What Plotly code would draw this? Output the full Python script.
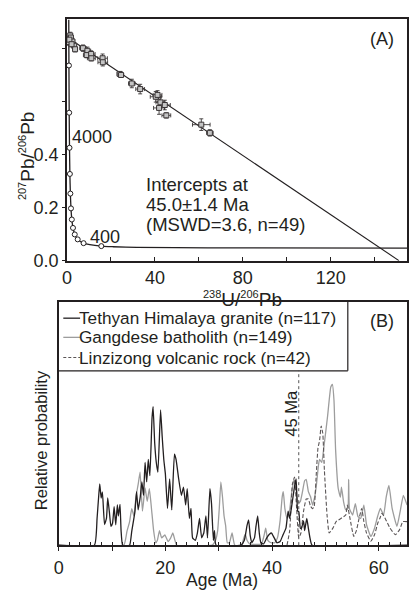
import plotly.graph_objects as go

W, H = 414, 608
INK = "#231f20"
FONT = "Liberation Sans, Arial, Helvetica, sans-serif"

# ---------------- Panel A data (Tera-Wasserburg) ----------------
spot_x = [0.7, 1.5, 1.8, 2.5, 3.3, 3.7, 1.1, 2.1, 7.3, 9.3, 9.0, 11.0, 11.1, 16.2, 16.3,
          24.0, 24.6, 29.5, 33.3, 40.4, 41.2, 41.9, 42.5, 44.5, 45.2, 61.1, 65.0]
spot_y = [0.823, 0.848, 0.840, 0.825, 0.809, 0.796, 0.832, 0.815, 0.800, 0.790, 0.774, 0.778,
          0.762, 0.762, 0.747, 0.703, 0.699, 0.667, 0.646, 0.617, 0.624, 0.575, 0.596, 0.586,
          0.547, 0.512, 0.481]
spot_ex = [0.8, 0.8, 0.9, 1.0, 1.0, 1.0, 0.8, 0.9, 1.5, 1.5, 1.5, 1.8, 1.8, 2.2, 2.2,
           1.2, 1.2, 1.5, 2.0, 2.5, 2.0, 2.5, 2.0, 2.5, 2.0, 4.0, 1.5]
spot_ey = [0.012, 0.012, 0.010, 0.012, 0.012, 0.010, 0.010, 0.010, 0.012, 0.014, 0.010, 0.012,
           0.010, 0.016, 0.014, 0.008, 0.008, 0.016, 0.018, 0.020, 0.016, 0.024, 0.020, 0.018,
           0.010, 0.022, 0.012]

# concordia curve (238U/206Pb, 207Pb/206Pb)
conc_x = [155.0, 63.96, 31.74, 20.99, 15.63, 7.57, 4.89, 3.55, 2.753, 2.217, 1.838, 1.556,
          1.337, 1.163, 1.0215, 0.9045, 0.853, 0.829]
conc_y = [0.0470, 0.0480, 0.0501, 0.0523, 0.0547, 0.0658, 0.0801, 0.0987, 0.1232, 0.1548,
          0.1968, 0.2524, 0.3264, 0.4249, 0.557, 0.7348, 0.845, 0.907]
# concordia age markers (400 Ma steps, 400 - 4800 Ma)
tick_x = [15.63, 7.57, 4.89, 3.55, 2.753, 2.217, 1.838, 1.556, 1.337, 1.163, 1.0215, 0.9045]
tick_y = [0.0547, 0.0658, 0.0801, 0.0987, 0.1232, 0.1548, 0.1968, 0.2524, 0.3264, 0.4249,
          0.557, 0.7348]

# discordia regression line
disc_x = [0.0, 151.0]
disc_y = [0.842, 0.0]

# ---------------- Panel B data (probability density curves) ----------------
him_age = [0, 6.7, 7.2, 7.5, 7.7, 7.97, 8.2, 8.6, 8.96, 9.2, 9.5, 9.8, 10.1, 10.4, 10.7, 11.0,
           11.2, 11.5, 11.7, 12.0, 13.3, 13.7, 14.3, 14.6, 14.9, 15.3, 15.6, 15.9, 16.2, 16.5,
           16.8, 17.1, 17.5, 17.7, 18.0, 18.3, 18.6, 19.1, 19.4, 19.7, 20.0, 20.4, 20.8, 21.2,
           21.7, 22.0, 22.5, 23.0, 23.4, 23.8, 24.1, 24.5, 24.8, 25.1, 25.6, 26.0, 26.4, 26.8,
           27.2, 27.6, 27.9, 28.35, 28.65, 29.0, 29.2, 29.5, 34.2, 34.8, 35.3, 35.6, 35.9, 36.2,
           36.7, 37.0, 37.3, 37.6, 37.9, 38.4, 39.0, 39.5, 39.9, 40.4, 40.9, 41.5, 42.0, 42.6,
           43.0, 43.3, 43.8, 44.2, 44.5, 44.8, 45.0, 45.3, 45.5, 45.9, 46.1, 46.5, 46.8, 47.1,
           47.5, 65.3]
him_p = [0, 0, 0.11, 0.20, 0.252, 0.194, 0.219, 0.085, 0.11, 0.194, 0.138, 0.077, 0.09, 0.158,
         0.084, 0.166, 0.12, 0.168, 0.06, 0, 0, 0.057, 0.138, 0.22, 0.145, 0.20, 0.26, 0.205,
         0.34, 0.26, 0.353, 0.286, 0.522, 0.57, 0.42, 0.34, 0.30, 0.556, 0.448, 0.353, 0.293,
         0.151, 0.272, 0.145, 0.374, 0.353, 0.272, 0.205, 0.239, 0.165, 0.232, 0.11, 0.151,
         0.03, 0.02, 0.05, 0.11, 0.03, 0.05, 0.12, 0.03, 0.232, 0.17, 0.02, 0.06, 0, 0, 0.02,
         0.08, 0.104, 0.04, 0.01, 0.03, 0.08, 0.12, 0.05, 0.01, 0.005, 0.03, 0.045, 0.05, 0.03,
         0.01, 0.015, 0.04, 0.07, 0.14, 0.11, 0.18, 0.24, 0.272, 0.14, 0.138, 0.07, 0.07, 0.10,
         0.06, 0.11, 0.07, 0.03, 0, 0]

gan_age = [0, 12.2, 12.8, 13.3, 13.7, 14.1, 14.5, 14.9, 15.26, 15.7, 16.2, 16.6, 17.0, 17.4,
           17.8, 18.2, 18.5, 18.9, 19.3, 19.9, 20.5, 21.0, 21.4, 21.8, 22.1, 28.8, 29.4, 29.8,
           30.1, 30.4, 30.7, 31.0, 31.3, 31.6, 32.0, 32.5, 33.0, 34.3, 34.7, 35.0, 35.3, 35.8,
           38.0, 38.5, 38.8, 39.2, 39.8, 40.5, 41.0, 41.5, 41.9, 42.1, 42.4, 42.8, 43.2, 43.7,
           44.1, 44.5, 44.9, 45.3, 45.7, 46.1, 46.4, 46.8, 47.2, 47.6, 48.0, 48.3, 48.7, 48.9,
           49.3, 49.8, 50.4, 51.0, 51.3, 51.6, 51.9, 52.4, 52.8, 53.0, 53.4, 53.8, 54.2, 54.35,
           54.5, 55.1, 55.6, 56.1, 56.6, 57.2, 57.7, 58.5, 59.2, 59.8, 60.3, 60.9, 61.4, 61.9,
           62.5, 63.4, 64.0, 64.6, 65.3]
gan_p = [0, 0, 0.057, 0.097, 0.15, 0.12, 0.20, 0.25, 0.30, 0.14, 0.235, 0.18, 0.232, 0.15,
         0.06, 0.01, 0.02, 0.06, 0.03, 0.042, 0.015, 0.03, 0.05, 0.02, 0, 0, 0.02, 0.06, 0.15,
         0.26, 0.20, 0.12, 0.08, 0.01, 0.01, 0.05, 0, 0, 0.03, 0.045, 0.02, 0.005, 0.005, 0.04,
         0.07, 0.02, 0.01, 0.01, 0.03, 0.10, 0.20, 0.22, 0.15, 0.11, 0.13, 0.22, 0.27, 0.23,
         0.17, 0.18, 0.22, 0.265, 0.27, 0.22, 0.20, 0.165, 0.20, 0.246, 0.33, 0.353, 0.34, 0.42,
         0.53, 0.65, 0.661, 0.596, 0.394, 0.232, 0.198, 0.239, 0.178, 0.145, 0.15, 0.27, 0.15,
         0.124, 0.171, 0.117, 0.11, 0.165, 0.084, 0.036, 0.07, 0.12, 0.151, 0.124, 0.20, 0.246,
         0.151, 0.077, 0.138, 0.205, 0.165]

lin_age = [42.8, 43.3, 43.8, 44.2, 44.6, 45.0, 45.4, 45.9, 46.4, 46.8, 47.2, 47.6, 47.9, 48.3,
           48.6, 48.9, 49.2, 49.5, 49.8, 50.3, 50.7, 51.4, 52.0, 52.9, 53.8, 54.1, 54.6, 55.3,
           55.8, 56.3, 56.8, 57.2, 57.7, 58.5, 59.2, 59.8, 60.2, 60.6, 61.2, 62.1, 63.1, 63.9,
           64.5, 65.3]
lin_p = [0, 0.06, 0.25, 0.28, 0.15, 0.03, 0.05, 0.14, 0.19, 0.19, 0.16, 0.15, 0.16, 0.30, 0.40,
         0.43, 0.49, 0.46, 0.31, 0.124, 0.05, 0.07, 0.097, 0.11, 0.124, 0.165, 0.11, 0.036, 0.06,
         0.11, 0.151, 0.097, 0.05, 0.016, 0.043, 0.09, 0.11, 0.131, 0.11, 0.07, 0.043, 0.064,
         0.097, 0.097]

legend_names = ["Tethyan Himalaya granite (n=117)", "Gangdese batholith (n=149)",
                "Linzizong volcanic rock (n=42)"]


def px(x):
    return x / W


def py(y):
    return 1 - y / H


def sup(s):
    return '<sup><span style="font-size:11px">' + s + '</span></sup>'


fig = go.Figure()

# Panel A traces
fig.add_trace(go.Scatter(x=disc_x, y=disc_y, mode="lines", line=dict(color=INK, width=1.1),
                         xaxis="x", yaxis="y", showlegend=False, hoverinfo="skip"))
fig.add_trace(go.Scatter(x=conc_x, y=conc_y, mode="lines",
                         line=dict(color=INK, width=1.3, shape="spline", smoothing=0.6),
                         xaxis="x", yaxis="y", showlegend=False, hoverinfo="skip"))
fig.add_trace(go.Scatter(x=tick_x, y=tick_y, mode="markers",
                         marker=dict(symbol="circle", size=5, color="white", line=dict(color=INK, width=1)),
                         xaxis="x", yaxis="y", showlegend=False))
fig.add_trace(go.Scatter(x=spot_x, y=spot_y, mode="markers",
                         marker=dict(symbol="square", size=5, color="#c4c4c4", line=dict(color="#3a3536", width=1)),
                         error_x=dict(type="data", array=spot_ex, color="#3a3536", thickness=0.9, width=2),
                         error_y=dict(type="data", array=spot_ey, color="#3a3536", thickness=0.9, width=2),
                         xaxis="x", yaxis="y", showlegend=False))

# Panel B traces
fig.add_trace(go.Scatter(x=gan_age, y=gan_p, mode="lines",
                         line=dict(color="#9d9d9d", width=1.3, shape="spline", smoothing=0.4),
                         xaxis="x2", yaxis="y2", showlegend=False, hoverinfo="skip"))
fig.add_trace(go.Scatter(x=lin_age, y=lin_p, mode="lines",
                         line=dict(color="#5a5556", width=1.1, dash="4px,2px", shape="spline", smoothing=0.4),
                         xaxis="x2", yaxis="y2", showlegend=False, hoverinfo="skip"))
fig.add_trace(go.Scatter(x=him_age, y=him_p, mode="lines",
                         line=dict(color=INK, width=1.3, shape="spline", smoothing=0.4),
                         xaxis="x2", yaxis="y2", showlegend=False, hoverinfo="skip"))
fig.add_trace(go.Scatter(x=[45, 45], y=[0, 0.717], mode="lines", line=dict(color="#555", width=1, dash="dot"),
                         xaxis="x2", yaxis="y2", showlegend=False, hoverinfo="skip"))

axis_common = dict(showgrid=False, zeroline=False, showline=True, mirror=True, linecolor=INK,
                   linewidth=1.5, tickcolor=INK, tickfont=dict(family=FONT, size=18, color=INK))

fig.update_layout(
    width=W, height=H, margin=dict(l=0, r=0, t=0, b=0),
    paper_bgcolor="white", plot_bgcolor="white",
    font=dict(family=FONT, color=INK),
    xaxis=dict(domain=[px(62.7), px(407)], range=[0, 154.7], anchor="y",
               tickvals=[0, 20, 40, 60, 80, 100, 120, 140],
               ticktext=["0", "", "40", "", "80", "", "120", ""],
               ticks="inside", ticklen=4, **axis_common),
    yaxis=dict(domain=[py(265), py(19)], range=[0, 0.911], anchor="x",
               tickvals=[0, 0.2, 0.4, 0.6, 0.8], ticktext=["0.0", "0.2", "0.4", "", ""],
               ticks="outside", ticklen=3, **axis_common),
    xaxis2=dict(domain=[px(54.3), px(407)], range=[0, 65.3], anchor="y2",
                tickvals=[0, 10, 20, 30, 40, 50, 60],
                ticktext=["0", "", "20", "", "40", "", "60"],
                ticks="outside", ticklen=4, ticklabelstandoff=1,
                minor=dict(dtick=2, ticks="inside", ticklen=3, tickcolor=INK),
                **axis_common),
    yaxis2=dict(domain=[py(554.3), py(307)], range=[0, 1], anchor="x2",
                showticklabels=False, ticks="", **axis_common),
)

ann = []


def text(x, y, t, size=17, xanchor="left", angle=0):
    ann.append(dict(x=px(x), y=py(y), xref="paper", yref="paper", text=t, showarrow=False,
                    xanchor=xanchor, yanchor="middle", textangle=angle, borderpad=0,
                    font=dict(family=FONT, size=size, color=INK)))


text(368, 40, "(A)", size=18)
text(67, 139, "4000", size=18)
text(85, 241, "400", size=18)
text(142, 188, "Intercepts at", size=18.5)
text(142, 208, "45.0±1.4 Ma", size=18.5)
text(142, 228, "(MSWD=3.6, n=49)", size=18.5)
text(23, 158, sup("207") + "Pb/" + sup("206") + "Pb", size=19, xanchor="center", angle=-90)
text(240, 304, sup("238") + "U/" + sup("206") + "Pb", size=19, xanchor="center")

text(368, 326, "(B)", size=18)
text(290, 420, "45 Ma", size=16.5, xanchor="center", angle=-90)
text(36, 448, "Relative probability", size=16.5, xanchor="center", angle=-90)
text(220, 590, "Age (Ma)", size=17.5, xanchor="center")

leg_y = [323.5, 343, 363.5]
for name, yy in zip(legend_names, leg_y):
    text(74, yy, name, size=17.2)

shapes = [
    dict(type="line", xref="paper", yref="paper", x0=px(53.5), x1=px(347), y0=py(377), y1=py(377),
         line=dict(color=INK, width=1.2)),
    dict(type="line", xref="paper", yref="paper", x0=px(347), x1=px(347), y0=py(307), y1=py(377),
         line=dict(color=INK, width=1.2)),
    dict(type="line", xref="paper", yref="paper", x0=px(59), x1=px(76), y0=py(323.5), y1=py(323.5),
         line=dict(color=INK, width=1.3)),
    dict(type="line", xref="paper", yref="paper", x0=px(59), x1=px(76), y0=py(343), y1=py(343),
         line=dict(color="#9d9d9d", width=1.3)),
    dict(type="line", xref="paper", yref="paper", x0=px(59), x1=px(76), y0=py(363.5), y1=py(363.5),
         line=dict(color="#5a5556", width=1.1, dash="3px,2px")),
]

fig.update_layout(annotations=ann, shapes=shapes)
fig.write_html("out.html")
